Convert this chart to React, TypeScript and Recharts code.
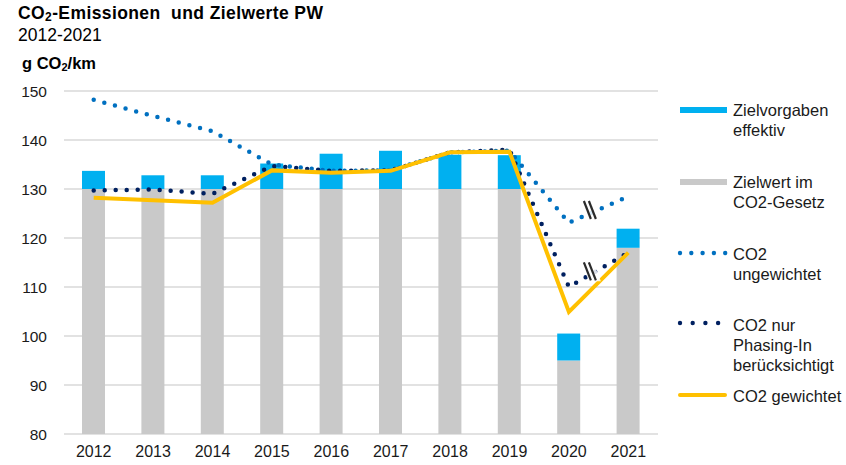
import React from 'react';
import { ComposedChart, Bar, Line, XAxis, YAxis, CartesianGrid } from 'recharts';

const years = ['2012', '2013', '2014', '2015', '2016', '2017', '2018', '2019', '2020', '2021'];
const zielwertGesetz = [130, 130, 130, 130, 130, 130, 130, 130, 95, 118];
const zielvorgabenEffektiv = [133.7, 132.8, 132.8, 135.2, 137.2, 137.8, 137, 136.9, 100.5, 121.9];
const co2Ungewichtet = [148.2, 144.9, 141.8, 135, 133.7, 133.8, 137.5, 137.8, 123.1, 128.5];
const co2PhasingIn = [129.7, 129.9, 129.0, 134.7, 133.7, 133.8, 137.5, 138.0, 110, 117];
const co2Gewichtet = [128.2, 127.7, 127.2, 133.8, 133.3, 133.7, 137.5, 137.6, 104.9, 117];
const yTicks = [80, 90, 100, 110, 120, 130, 140, 150];

const data = years.map((year, i) => ({
  year,
  base: zielwertGesetz[i],
  extra: zielvorgabenEffektiv[i] - zielwertGesetz[i],
  ungewichtet: co2Ungewichtet[i],
  phasing: co2PhasingIn[i],
  gewichtet: co2Gewichtet[i],
}));

const FONT = '"Liberation Sans", Arial, sans-serif';

// "\\" break mark between 2020 and 2021 on the dotted lines
const BreakDot = (props: any) => {
  const { index, points, cx, cy } = props;
  if (index !== 8 || !points || !points[9]) return <g key={`d-${index}`} />;
  const t = 0.37;
  const x = cx + (points[9].x - cx) * t;
  const y = cy + (points[9].y - cy) * t - 3;
  return (
    <g key={`d-${index}`}>
      <polygon
        points={`${x - 10},${y - 10} ${x + 2},${y - 10} ${x + 10},${y + 10} ${x - 2},${y + 10}`}
        fill="#fff"
        opacity={0.85}
      />
      <line x1={x - 7} y1={y - 9} x2={x} y2={y + 9} stroke="#2b2b2b" strokeWidth={2.2} />
      <line x1={x - 2} y1={y - 9} x2={x + 5} y2={y + 9} stroke="#2b2b2b" strokeWidth={2.2} />
    </g>
  );
};

const legendText: React.CSSProperties = {
  position: 'absolute',
  left: 733,
  fontSize: 16.5,
  lineHeight: '20px',
  color: '#1a1a1a',
};

const Dots = ({ color, n, gap }: { color: string; n: number; gap: number }) => (
  <svg width={60} height={8} style={{ position: 'absolute', left: 0, top: -4 }}>
    {Array.from({ length: n }).map((_, i) => (
      <circle key={i} cx={3 + i * gap} cy={4} r={2.2} fill={color} />
    ))}
  </svg>
);

export default function App() {
  return (
    <div style={{ position: 'absolute', left: 0, top: 0, width: 846, height: 465, background: '#fff', fontFamily: FONT }}>
      <div style={{ position: 'absolute', left: 18, top: 3, fontSize: 17.5, fontWeight: 'bold', letterSpacing: 0.4, color: '#000' }}>
        CO<sub style={{ fontSize: 12, verticalAlign: '-2px' }}>2</sub>-Emissionen&nbsp; und Zielwerte PW
      </div>
      <div style={{ position: 'absolute', left: 18, top: 25, fontSize: 17.5, color: '#000' }}>2012-2021</div>
      <div style={{ position: 'absolute', left: 22, top: 54, fontSize: 16.5, fontWeight: 'bold', color: '#000' }}>
        g CO<sub style={{ fontSize: 11, verticalAlign: '-2px' }}>2</sub>/km
      </div>

      <ComposedChart
        width={846}
        height={465}
        data={data}
        margin={{ top: 91, right: 188, bottom: 1, left: 0 }}
        barCategoryGap={0}
        style={{ position: 'absolute', left: 0, top: 0 }}
      >
        <CartesianGrid vertical={false} stroke="#d9d9d9" strokeWidth={1.5} />
        <XAxis
          dataKey="year"
          axisLine={false}
          tickLine={false}
          tickSize={0}
          tickMargin={12}
          height={30}
          interval={0}
          tick={{ fill: '#1a1a1a', fontSize: 16, fontFamily: FONT }}
        />
        <YAxis
          domain={[80, 150]}
          ticks={yTicks}
          allowDataOverflow
          axisLine={false}
          tickLine={false}
          tickSize={0}
          tickMargin={17}
          width={64}
          tick={{ fill: '#1a1a1a', fontSize: 15.5, fontFamily: FONT }}
        />
        <Bar dataKey="base" stackId="a" fill="#c9c9c9" barSize={23} isAnimationActive={false} />
        <Bar dataKey="extra" stackId="a" fill="#00b0f0" barSize={23} isAnimationActive={false} />
        <Line
          type="linear"
          dataKey="ungewichtet"
          stroke="#0070c0"
          strokeWidth={4.5}
          strokeDasharray="0 11"
          strokeLinecap="round"
          dot={BreakDot}
          activeDot={false}
          isAnimationActive={false}
        />
        <Line
          type="linear"
          dataKey="phasing"
          stroke="#002060"
          strokeWidth={4.5}
          strokeDasharray="0 11"
          strokeLinecap="round"
          dot={BreakDot}
          activeDot={false}
          isAnimationActive={false}
        />
        <Line
          type="linear"
          dataKey="gewichtet"
          stroke="#ffc000"
          strokeWidth={4}
          dot={false}
          activeDot={false}
          isAnimationActive={false}
        />
      </ComposedChart>

      <div style={{ position: 'absolute', left: 680, top: 107, width: 47, height: 6, background: '#00b0f0' }} />
      <div style={{ ...legendText, top: 100 }}>Zielvorgaben<br />effektiv</div>

      <div style={{ position: 'absolute', left: 680, top: 179, width: 47, height: 6, background: '#c9c9c9' }} />
      <div style={{ ...legendText, top: 172 }}>Zielwert im<br />CO2-Gesetz</div>

      <div style={{ position: 'absolute', left: 677, top: 253 }}>
        <Dots color="#0070c0" n={5} gap={11.3} />
      </div>
      <div style={{ ...legendText, top: 244 }}>CO2<br />ungewichtet</div>

      <div style={{ position: 'absolute', left: 677, top: 323 }}>
        <Dots color="#002060" n={4} gap={12.7} />
      </div>
      <div style={{ ...legendText, top: 315 }}>CO2 nur<br />Phasing-In<br />berücksichtigt</div>

      <div style={{ position: 'absolute', left: 678, top: 393, width: 49, height: 4, background: '#ffc000', borderRadius: 2 }} />
      <div style={{ ...legendText, top: 386 }}>CO2 gewichtet</div>
    </div>
  );
}
